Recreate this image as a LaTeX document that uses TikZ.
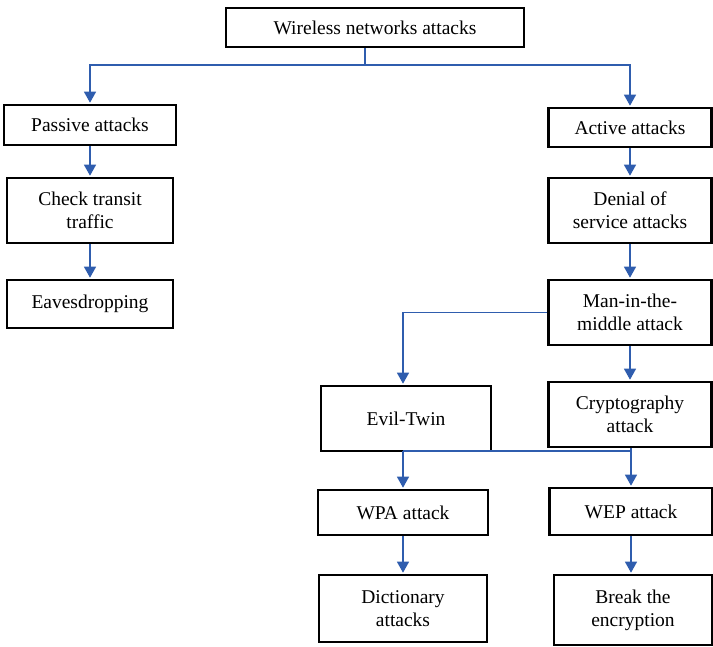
\documentclass[tikz,border=0pt]{standalone}
\usepackage{fontspec}
\setmainfont{Liberation Serif}
\usetikzlibrary{arrows.meta,calc}
\definecolor{arrblue}{HTML}{2F5DAE}
\tikzset{
  box/.style={draw=black, line width=2.6pt, fill=white, align=center, inner sep=2pt,
    font=\fontsize{19.5}{23}\selectfont},
  conn/.style={draw=arrblue, line width=1.3pt},
  arr/.style={conn, -{Triangle[width=12pt,length=11pt]}, shorten >=1pt}
}
\begin{document}
\begin{tikzpicture}[x=1pt,y=-1pt]
\useasboundingbox (0,0) rectangle (713,647);
\node[box, minimum width=298, minimum height=39] (top) at (375,27.5) {Wireless networks attacks};
\node[box, minimum width=172, minimum height=40] (passive) at (90,125) {Passive attacks};
\node[box, minimum width=163, minimum height=39] (active) at (630,127.5) {Active attacks};
\node[box, minimum width=166, minimum height=65] (check) at (90,210.5) {Check transit\\traffic};
\node[box, minimum width=166, minimum height=48] (eaves) at (90,304) {Eavesdropping};
\node[box, minimum width=163, minimum height=65] (dos) at (630,210.5) {Denial of\\service attacks};
\node[box, minimum width=163, minimum height=65] (mitm) at (630,312.5) {Man-in-the-\\middle attack};
\node[box, minimum width=170, minimum height=65] (evil) at (406,418.5) {Evil-Twin};
\node[box, minimum width=163, minimum height=65] (crypto) at (630,414.5) {Cryptography\\attack};
\node[box, minimum width=170, minimum height=45] (wpa) at (403,512.5) {WPA attack};
\node[box, minimum width=163, minimum height=47] (wep) at (631,511.5) {WEP attack};
\node[box, minimum width=168, minimum height=67] (dict) at (403,608.5) {Dictionary\\attacks};
\node[box, minimum width=158, minimum height=70] (brk) at (633,610) {Break the\\encryption};
\coordinate (j1) at (365,65);
\coordinate (j2) at (403,451);
\coordinate (j3) at (631,451);
\draw[conn] (top.south -| j1) -- (j1);
\draw[arr] (j1) -| (passive.north);
\draw[arr] (j1) -| (active.north);
\draw[arr] (passive) -- (check);
\draw[arr] (check) -- (eaves);
\draw[arr] (active) -- (dos);
\draw[arr] (dos) -- (mitm);
\draw[arr] (mitm) -- (crypto);
\draw[arr] (mitm.west) -| (evil.north -| j2);
\draw[conn] (j2) -- (j3);
\draw[arr] (j2) -- (wpa.north -| j2);
\draw[arr] (crypto.south -| j3) -- (wep.north -| j3);
\draw[arr] (wpa) -- (dict);
\draw[arr] (wep.south) -- (wep.south |- brk.north);
\end{tikzpicture}
\end{document}
